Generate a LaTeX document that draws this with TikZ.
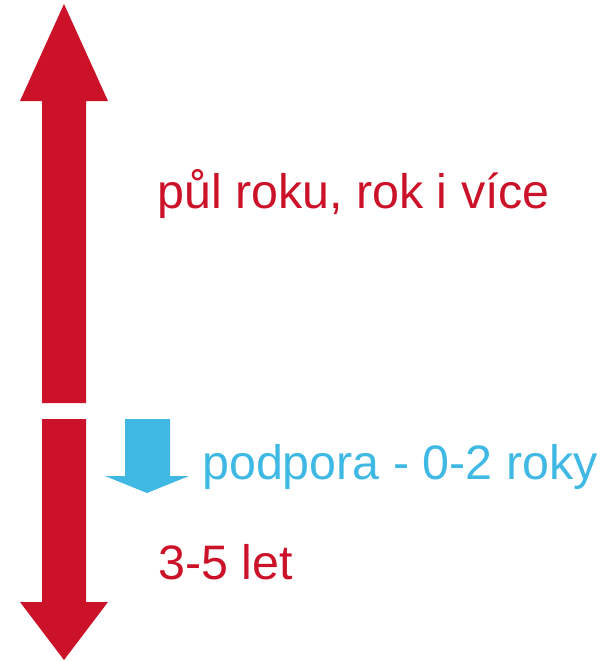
\documentclass[tikz,border=0pt]{standalone}
\usepackage{fontspec}
\setmainfont{Liberation Sans}
\definecolor{arrred}{HTML}{CC1228}
\definecolor{arrblue}{HTML}{3FB8E4}
\begin{document}
\begin{tikzpicture}[x=1pt,y=-1pt,
  lbl/.style={anchor=base west,inner sep=0pt,font=\fontsize{48.4}{50}\selectfont}]
\useasboundingbox (0,0) rectangle (609,661);
% upper red arrow (pointing up)
\fill[arrred] (64,4) -- (108,101) -- (86,101) -- (86,403) -- (42,403) -- (42,101) -- (20,101) -- cycle;
% lower red arrow (pointing down)
\fill[arrred] (42,419) -- (86,419) -- (86,602) -- (108,602) -- (64,660) -- (20,602) -- (42,602) -- cycle;
% blue arrow
\fill[arrblue] (125,419) -- (170,419) -- (170,476) -- (189,476) -- (147,493) -- (105,476) -- (125,476) -- cycle;
\node[lbl,text=arrred] (t1) at (157,208) {půl roku, rok i více};
\node[lbl,text=arrblue] (t2) at (202,479) {podpora - 0-2 roky};
\node[lbl,text=arrred] (t3) at (158,579) {3-5 let};
\end{tikzpicture}
\end{document}
